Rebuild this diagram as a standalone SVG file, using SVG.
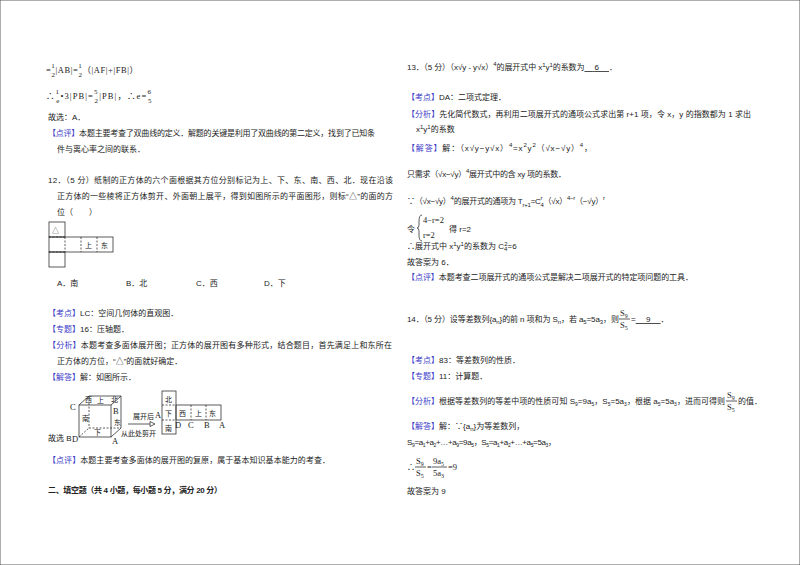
<svg xmlns="http://www.w3.org/2000/svg" width="800" height="565" viewBox="0 0 800 565">
<style>
text{font-family:"Liberation Sans","Noto Sans CJK SC",sans-serif;font-size:8px;fill:#222}
.b{fill:#3b3bc8}
.s{font-size:7px}
.m{font-family:"Liberation Serif","Noto Sans CJK SC",serif;font-size:8.5px}
.h{font-weight:bold}
line,rect,path,polyline{stroke:#333;fill:none;stroke-width:0.8}
.d{stroke-dasharray:2,1.5}
</style>
<rect x="0" y="0" width="800" height="565" fill="#fff" stroke="none"/>
<g id="left">
<text x="46" y="73" class="m" textLength="92" lengthAdjust="spacing">=<tspan font-size="7" dy="-5">1</tspan><tspan dx="-4" dy="9" font-size="7">2</tspan><tspan dy="-4">|AB|=</tspan><tspan font-size="7" dy="-5">1</tspan><tspan dx="-4" dy="9" font-size="7">2</tspan><tspan dy="-4">（|AF|+|FB|）</tspan></text>
<text x="46" y="99" class="m" textLength="106" lengthAdjust="spacing">∴<tspan font-size="7" dy="-5">1</tspan><tspan dx="-4" dy="9" font-size="7">e</tspan><tspan dy="-4">•3|PB|=</tspan><tspan font-size="7" dy="-5">5</tspan><tspan dx="-4" dy="9" font-size="7">2</tspan><tspan dy="-4">|PB|，∴e=</tspan><tspan font-size="7" dy="-5">6</tspan><tspan dx="-4" dy="9" font-size="7">5</tspan></text>
<text x="48" y="120">故选：A．</text>
<text x="48" y="136" textLength="327" lengthAdjust="spacing"><tspan class="b">【点评】</tspan>本题主要考查了双曲线的定义．解题的关键是利用了双曲线的第二定义，找到了已知条</text>
<text x="57" y="152">件与离心率之间的联系．</text>
<text x="48" y="183" textLength="345" lengthAdjust="spacing">12．（5 分）纸制的正方体的六个面根据其方位分别标记为上、下、东、南、西、北．现在沿该</text>
<text x="57" y="199" textLength="336" lengthAdjust="spacing">正方体的一些棱将正方体剪开、外面朝上展平，得到如图所示的平面图形，则标“△”的面的方</text>
<text x="57" y="215">位（　　）</text>
<g id="net1">
<rect x="49" y="222" width="16" height="15"/>
<rect x="49" y="237" width="64" height="15"/>
<rect x="49" y="252" width="16" height="15"/>
<line x1="65" y1="237" x2="65" y2="252" class="d"/>
<line x1="81" y1="237" x2="81" y2="252" class="d"/>
<line x1="97" y1="237" x2="97" y2="252" class="d"/>
<line x1="49" y1="237" x2="65" y2="237" class="d"/>
<line x1="49" y1="252" x2="65" y2="252" class="d"/>
<text x="52" y="233" class="s">△</text>
<text x="85" y="248" class="s">上</text>
<text x="101" y="248" class="s">东</text>
</g>
<text x="57" y="286">A．南</text>
<text x="126" y="286">B．北</text>
<text x="196" y="286">C．西</text>
<text x="264" y="286">D．下</text>
<text x="48" y="316"><tspan class="b">【考点】</tspan>LC：空间几何体的直观图．</text>
<text x="48" y="332"><tspan class="b">【专题】</tspan>16：压轴题．</text>
<text x="48" y="348" textLength="344" lengthAdjust="spacing"><tspan class="b">【分析】</tspan>本题考查多面体展开图；正方体的展开图有多种形式，结合题目，首先满足上和东所在</text>
<text x="57" y="364">正方体的方位，“△”的面就好确定．</text>
<text x="48" y="380"><tspan class="b">【解答】</tspan>解：如图所示．</text>
<g id="cube">
<rect x="79" y="405" width="32" height="32"/>
<line x1="89" y1="396" x2="121" y2="396"/>
<line x1="121" y1="396" x2="121" y2="428"/>
<line x1="79" y1="405" x2="89" y2="396"/>
<line x1="111" y1="405" x2="121" y2="396"/>
<line x1="111" y1="437" x2="121" y2="428"/>
<line x1="89" y1="396" x2="89" y2="428" class="d"/>
<line x1="89" y1="428" x2="121" y2="428" class="d"/>
<line x1="79" y1="437" x2="89" y2="428" class="d"/>
<text x="70" y="410" class="m">C</text>
<text x="72" y="442" class="m">D</text>
<text x="112" y="444" class="m">A</text>
<text x="113" y="414" class="m">B</text>
<text x="85" y="402" class="s">西</text>
<text x="97" y="403" class="s">上</text>
<text x="111" y="402" class="s">北</text>
<text x="82" y="421" class="s">南</text>
<text x="114" y="425" class="s">东</text>
<text x="94" y="435" class="s">下</text>
<line x1="128" y1="424" x2="150" y2="424"/>
<path d="M150 421.5L155 424L150 426.5Z" fill="#333" stroke="none"/>
<text x="133" y="419" class="s" font-size="6">展开后</text>
<text x="121" y="436" class="s" font-size="6">从此处剪开</text>
</g>
<g id="net2">
<rect x="162" y="391" width="14" height="43" stroke-width="1.2"/>
<rect x="176" y="405" width="45" height="15"/>
<line x1="162" y1="405" x2="176" y2="405" class="d"/>
<line x1="162" y1="420" x2="176" y2="420" class="d"/>
<line x1="191" y1="405" x2="191" y2="420" class="d"/>
<line x1="206" y1="405" x2="206" y2="420" class="d"/>
<text x="165" y="402" class="s">北</text>
<text x="165" y="416" class="s">下</text>
<text x="179" y="416" class="s">西</text>
<text x="195" y="416" class="s">上</text>
<text x="209" y="416" class="s">东</text>
<text x="165" y="431" class="s">南</text>
<text x="155" y="418" class="m" font-size="7">A</text>
<text x="175" y="428" class="m" font-size="7">D</text>
<text x="188" y="428" class="m" font-size="7">C</text>
<text x="204" y="428" class="m" font-size="7">B</text>
<text x="219" y="428" class="m" font-size="7">A</text>
</g>
<text x="48" y="441">故选 B</text>
<text x="48" y="463" textLength="282" lengthAdjust="spacing"><tspan class="b">【点评】</tspan>本题主要考查多面体的展开图的复原，属于基本知识基本能力的考查．</text>
<text x="48" y="493" class="h" textLength="174" lengthAdjust="spacing">二、填空题（共 4 小题，每小题 5 分，满分 20 分）</text>
</g>
<g id="right">
<text x="407" y="70" textLength="210" lengthAdjust="spacing">13．（5 分）（x√y - y√x）<tspan font-size="6" dy="-4">4</tspan><tspan dy="4">的展开式中 x</tspan><tspan font-size="6" dy="-3">1</tspan><tspan dy="3">y</tspan><tspan font-size="6" dy="-3">1</tspan><tspan dy="3">的系数为</tspan><tspan text-decoration="underline">　 6 　</tspan>．</text>
<text x="407" y="100"><tspan class="b">【考点】</tspan>DA：二项式定理．</text>
<text x="407" y="117" textLength="344" lengthAdjust="spacing"><tspan class="b">【分析】</tspan>先化简代数式，再利用二项展开式的通项公式求出第 r+1 项，令 x，y 的指数都为 1 求出</text>
<text x="416" y="132">x<tspan font-size="6" dy="-3">1</tspan><tspan dy="3">y</tspan><tspan font-size="6" dy="-3">1</tspan><tspan dy="3">的系数</tspan></text>
<text x="407" y="151" textLength="185" lengthAdjust="spacing"><tspan class="b">【解答】</tspan>解：（x√y−y√x）<tspan font-size="6" dy="-4">4</tspan><tspan dy="4">=x</tspan><tspan font-size="6" dy="-4">2</tspan><tspan dy="4">y</tspan><tspan font-size="6" dy="-4">2</tspan><tspan dy="4">（√x−√y）</tspan><tspan font-size="6" dy="-4">4</tspan><tspan dy="4">，</tspan></text>
<text x="407" y="177" textLength="159" lengthAdjust="spacing">只需求（√x−√y）<tspan font-size="6" dy="-4">4</tspan><tspan dy="4">展开式中的含 xy 项的系数．</tspan></text>
<text x="407" y="204" textLength="198" lengthAdjust="spacing">∵（√x−√y）<tspan font-size="6" dy="-4">4</tspan><tspan dy="4">的展开式的通项为 T</tspan><tspan font-size="6" dy="3">r+1</tspan><tspan dy="-3">=C</tspan><tspan font-size="6" dy="-4">r</tspan><tspan font-size="6" dx="-2" dy="7">4</tspan><tspan dy="-3">（√x）</tspan><tspan font-size="6" dy="-4">4−r</tspan><tspan dy="4">（−√y）</tspan><tspan font-size="6" dy="-4">r</tspan></text>
<text x="407" y="232">令</text>
<path d="M422 215Q419 215 419 221L419 225Q419 228 417 228Q419 228 419 231L419 235Q419 241 422 241"/>
<text x="423" y="223" class="m">4−r=2</text>
<text x="423" y="238" class="m">r=2</text>
<text x="449" y="232">得 r=2</text>
<text x="407" y="249">∴展开式中 x<tspan font-size="6" dy="-3">1</tspan><tspan dy="3">y</tspan><tspan font-size="6" dy="-3">1</tspan><tspan dy="3">的系数为 C</tspan><tspan font-size="6" dy="2">4</tspan><tspan font-size="6" dy="-5" dx="-3">2</tspan><tspan dy="3">=6</tspan></text>
<text x="407" y="265">故答案为 6．</text>
<text x="407" y="280" textLength="286" lengthAdjust="spacing"><tspan class="b">【点评】</tspan>本题考查二项展开式的通项公式是解决二项展开式的特定项问题的工具．</text>
<text x="407" y="322" textLength="212" lengthAdjust="spacing">14．（5 分）设等差数列{a<tspan font-size="6" dy="2">n</tspan><tspan dy="-2">}的前 n 项和为 S</tspan><tspan font-size="6" dy="2">n</tspan><tspan dy="-2">，若 a</tspan><tspan font-size="6" dy="2">5</tspan><tspan dy="-2">=5a</tspan><tspan font-size="6" dy="2">3</tspan><tspan dy="-2">，则</tspan></text>
<text x="620" y="316" class="m">S<tspan font-size="6" dy="2">9</tspan></text>
<line x1="619" y1="319" x2="630" y2="319"/>
<text x="620" y="328" class="m">S<tspan font-size="6" dy="2">5</tspan></text>
<text x="631" y="322">=<tspan text-decoration="underline">　 9 　</tspan>．</text>
<text x="407" y="363"><tspan class="b">【考点】</tspan>83：等差数列的性质．</text>
<text x="407" y="379"><tspan class="b">【专题】</tspan>11：计算题．</text>
<text x="407" y="404" textLength="318" lengthAdjust="spacing"><tspan class="b">【分析】</tspan>根据等差数列的等差中项的性质可知 S<tspan font-size="5" dy="2">9</tspan><tspan dy="-2">=9a</tspan><tspan font-size="5" dy="2">5</tspan><tspan dy="-2">，S</tspan><tspan font-size="5" dy="2">5</tspan><tspan dy="-2">=5a</tspan><tspan font-size="5" dy="2">3</tspan><tspan dy="-2">，根据 a</tspan><tspan font-size="5" dy="2">5</tspan><tspan dy="-2">=5a</tspan><tspan font-size="5" dy="2">3</tspan><tspan dy="-2">，进而可得则</tspan></text>
<g id="frac-an">
<text x="727" y="398" class="m">S<tspan font-size="6" dy="2">9</tspan></text>
<line x1="726" y1="401" x2="737" y2="401"/>
<text x="727" y="410" class="m">S<tspan font-size="6" dy="2">5</tspan></text>
<text x="738" y="404">的值．</text>
</g>
<text x="407" y="429"><tspan class="b">【解答】</tspan>解：∵{a<tspan font-size="6" dy="2">n</tspan><tspan dy="-2">}为等差数列，</tspan></text>
<text x="407" y="445" font-size="7" textLength="149" lengthAdjust="spacing">S<tspan font-size="5" dy="2">9</tspan><tspan dy="-2">=a</tspan><tspan font-size="5" dy="2">1</tspan><tspan dy="-2">+a</tspan><tspan font-size="5" dy="2">2</tspan><tspan dy="-2">+…+a</tspan><tspan font-size="5" dy="2">9</tspan><tspan dy="-2">=9a</tspan><tspan font-size="5" dy="2">5</tspan><tspan dy="-2">，S</tspan><tspan font-size="5" dy="2">5</tspan><tspan dy="-2">=a</tspan><tspan font-size="5" dy="2">1</tspan><tspan dy="-2">+a</tspan><tspan font-size="5" dy="2">2</tspan><tspan dy="-2">+…+a</tspan><tspan font-size="5" dy="2">5</tspan><tspan dy="-2">=5a</tspan><tspan font-size="5" dy="2">3</tspan><tspan dy="-2">，</tspan></text>
<text x="407" y="470">∴</text>
<text x="416" y="464" class="m">S<tspan font-size="6" dy="2">9</tspan></text>
<line x1="415" y1="467" x2="426" y2="467"/>
<text x="416" y="476" class="m">S<tspan font-size="6" dy="2">5</tspan></text>
<text x="427" y="470" class="m">=</text>
<text x="433" y="464" class="m">9a<tspan font-size="6" dy="2">5</tspan></text>
<line x1="432" y1="467" x2="447" y2="467"/>
<text x="433" y="476" class="m">5a<tspan font-size="6" dy="2">3</tspan></text>
<text x="448" y="470" class="m">=9</text>
<text x="407" y="494">故答案为 9</text>
</g>
</svg>
